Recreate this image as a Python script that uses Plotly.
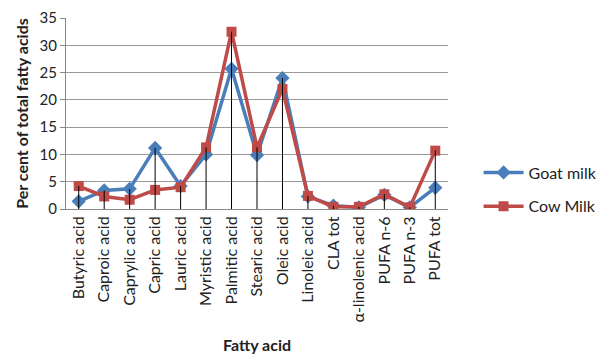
import plotly.graph_objects as go

categories = ["Butyric acid", "Caproic acid", "Caprylic acid", "Capric acid", "Lauric acid",
              "Myristic acid", "Palmitic acid", "Stearic acid", "Oleic acid", "Linoleic acid",
              "CLA tot", "α-linolenic acid", "PUFA n-6", "PUFA n-3", "PUFA tot"]
goat_milk = [1.4, 3.4, 3.7, 11.2, 4.2, 10.0, 25.7, 9.9, 24.0, 2.3, 0.6, 0.3, 2.6, 0.3, 3.9]
cow_milk = [4.2, 2.3, 1.7, 3.5, 4.0, 11.3, 32.5, 11.3, 22.0, 2.4, 0.4, 0.4, 2.7, 0.3, 10.7]
y_ticks = [0, 5, 10, 15, 20, 25, 30, 35]

FONT = "Lato"

fig = go.Figure()

fig.add_trace(go.Scatter(
    x=categories, y=goat_milk, name="Goat milk", mode="lines+markers",
    line=dict(color="#4A7EBB", width=3.5),
    marker=dict(symbol="diamond", size=11, color="#4A7EBB"),
    legendgroup="g1",
))
fig.add_trace(go.Scatter(
    x=categories, y=cow_milk, name="Cow Milk", mode="lines+markers",
    line=dict(color="#BE4B48", width=3.5),
    marker=dict(symbol="square", size=10, color="#BE4B48"),
    legendgroup="g2",
))

# drop lines from the higher point of each category to the axis
dx, dy = [], []
for c, g, w in zip(categories, goat_milk, cow_milk):
    dx += [c, c, None]
    dy += [0, max(g, w), None]
fig.add_trace(go.Scatter(x=dx, y=dy, mode="lines", line=dict(color="black", width=1),
                         showlegend=False, hoverinfo="skip"))

fig.update_layout(
    width=605, height=360,
    margin=dict(l=58, r=143, t=10, b=159),
    paper_bgcolor="white", plot_bgcolor="white",
    font=dict(family=FONT, size=16, color="#222"),
    legend=dict(x=1.08, y=0.28, xanchor="left", yanchor="top",
                font=dict(family=FONT, size=16, color="#222"),
                tracegroupgap=10, itemwidth=40),
    xaxis=dict(
        type="category", tickangle=-90, automargin=False,
        tickfont=dict(family=FONT, size=16, color="#222"),
        showline=True, linecolor="#888", linewidth=1,
        showgrid=False, ticks="", range=[-0.5, len(categories) - 0.5],
        title=dict(text="<b>Fatty acid</b>", font=dict(family=FONT, size=16, color="#222"), standoff=18),
    ),
    yaxis=dict(
        range=[0, 35.02], tickvals=y_ticks, automargin=False,
        ticklabeloverflow="allow",
        tickfont=dict(family=FONT, size=15, color="#222"),
        showgrid=True, gridcolor="#9a9a9a", gridwidth=1,
        showline=True, linecolor="#888", linewidth=1,
        ticks="outside", ticklen=5, tickcolor="#888",
        zeroline=False,
        title=dict(text="<b>Per cent of total fatty acids</b>", font=dict(family=FONT, size=16, color="#222"), standoff=6),
    ),
)

fig.write_html("out.html")
